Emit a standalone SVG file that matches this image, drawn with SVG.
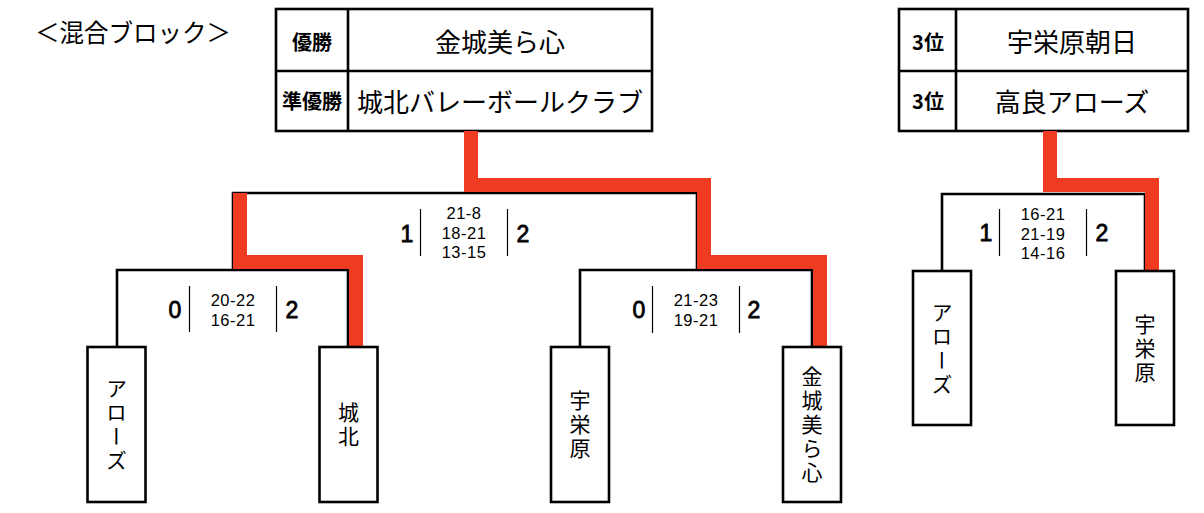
<svg xmlns="http://www.w3.org/2000/svg" width="1204" height="513" viewBox="0 0 1204 513">
<style>
.bx{fill:#fff;stroke:#000;stroke-width:2.6}
.ln{fill:none;stroke:#000;stroke-width:2.6}
.red{fill:none;stroke:#ee3b21;stroke-width:14;stroke-linejoin:miter;stroke-linecap:butt}
.sep{stroke:#000;stroke-width:1.2}
.jp{font-family:"Noto Sans CJK JP","Noto Sans",sans-serif;fill:#000}
.lab{font-size:20px;font-weight:bold;text-anchor:middle;dominant-baseline:central}
.big{font-size:26px;text-anchor:middle;dominant-baseline:central}
.vt{font-size:21px;writing-mode:vertical-rl;text-anchor:middle;letter-spacing:3px}
.sc{font-family:"Liberation Sans",Arial,sans-serif;font-size:16.5px;letter-spacing:0.5px;text-anchor:middle;fill:#000}
.bg{font-family:"Liberation Sans",Arial,sans-serif;font-size:23px;text-anchor:middle;fill:#000;stroke:#000;stroke-width:0.8}
</style>
<rect width="1204" height="513" fill="#fff"/>
<text class="jp" x="35" y="31" font-size="24.5" dominant-baseline="central">＜混合ブロック＞</text>

<g id="result-main">
<rect class="bx" x="276" y="9" width="376" height="122"/>
<line class="ln" x1="348" y1="9" x2="348" y2="131"/>
<line class="ln" x1="276" y1="71" x2="652" y2="71"/>
<text class="jp lab" x="312" y="41">優勝</text>
<text class="jp lab" x="312" y="100">準優勝</text>
<text class="jp big" x="500" y="40">金城美ら心</text>
<text class="jp big" x="500" y="100">城北バレーボールクラブ</text>
</g>
<g id="result-third">
<rect class="bx" x="899" y="9" width="289" height="122"/>
<line class="ln" x1="956" y1="9" x2="956" y2="131"/>
<line class="ln" x1="899" y1="71" x2="1188" y2="71"/>
<text class="jp lab" x="928" y="41">3位</text>
<text class="jp lab" x="928" y="100">3位</text>
<text class="jp big" x="1072" y="40">宇栄原朝日</text>
<text class="jp big" x="1072" y="100">高良アローズ</text>
</g>

<g id="connectors">
<polyline class="ln" points="233,270 233,193 697,193 697,270"/>
<polyline class="ln" points="117,347 117,270 348,270 348,347"/>
<polyline class="ln" points="580,347 580,270 812,270 812,347"/>
<polyline class="ln" points="942,271 942,194 1145,194 1145,271"/>
<polyline class="red" points="471,131 471,185 704,185 704,262 820,262 820,347"/>
<polyline class="red" points="240,193 240,262 356,262 356,347"/>
<polyline class="red" points="1050,131 1050,185 1152,185 1152,271"/>
</g>

<g id="scores">
<line class="sep" x1="420.5" y1="209" x2="420.5" y2="256"/>
<line class="sep" x1="507.5" y1="209" x2="507.5" y2="256"/>
<text class="bg" x="407" y="242">1</text>
<text class="bg" x="523" y="242">2</text>
<text class="sc" x="464" y="219">21-8</text>
<text class="sc" x="464" y="238.5">18-21</text>
<text class="sc" x="464" y="258">13-15</text>

<line class="sep" x1="189.5" y1="286" x2="189.5" y2="332"/>
<line class="sep" x1="276.5" y1="286" x2="276.5" y2="332"/>
<text class="bg" x="175" y="318">0</text>
<text class="bg" x="292" y="318">2</text>
<text class="sc" x="233" y="305.5">20-22</text>
<text class="sc" x="233" y="325.5">16-21</text>

<line class="sep" x1="652.5" y1="286" x2="652.5" y2="333"/>
<line class="sep" x1="739.5" y1="286" x2="739.5" y2="333"/>
<text class="bg" x="639" y="318">0</text>
<text class="bg" x="754" y="318">2</text>
<text class="sc" x="696" y="305.5">21-23</text>
<text class="sc" x="696" y="325.5">19-21</text>

<line class="sep" x1="999.5" y1="209" x2="999.5" y2="256"/>
<line class="sep" x1="1086.5" y1="209" x2="1086.5" y2="256"/>
<text class="bg" x="986" y="241">1</text>
<text class="bg" x="1102" y="241">2</text>
<text class="sc" x="1043" y="220">16-21</text>
<text class="sc" x="1043" y="239.5">21-19</text>
<text class="sc" x="1043" y="258.5">14-16</text>
</g>

<g id="node-arrows-1">
<rect class="bx" x="87.5" y="347" width="58" height="155"/>
<text class="jp vt" x="116.5" y="426">アローズ</text>
</g>
<g id="node-johoku">
<rect class="bx" x="319.5" y="347" width="58" height="155"/>
<text class="jp vt" x="348.5" y="426">城北</text>
</g>
<g id="node-uebaru-1">
<rect class="bx" x="551" y="347" width="58" height="155"/>
<text class="jp vt" x="580" y="426">宇栄原</text>
</g>
<g id="node-kanegusuku">
<rect class="bx" x="783" y="347" width="58" height="155"/>
<text class="jp vt" x="812" y="426">金城美ら心</text>
</g>
<g id="node-arrows-2">
<rect class="bx" x="913" y="271" width="58" height="154"/>
<text class="jp vt" x="942" y="349.5">アローズ</text>
</g>
<g id="node-uebaru-2">
<rect class="bx" x="1116" y="271" width="58" height="154"/>
<text class="jp vt" x="1145" y="349.5">宇栄原</text>
</g>
</svg>
